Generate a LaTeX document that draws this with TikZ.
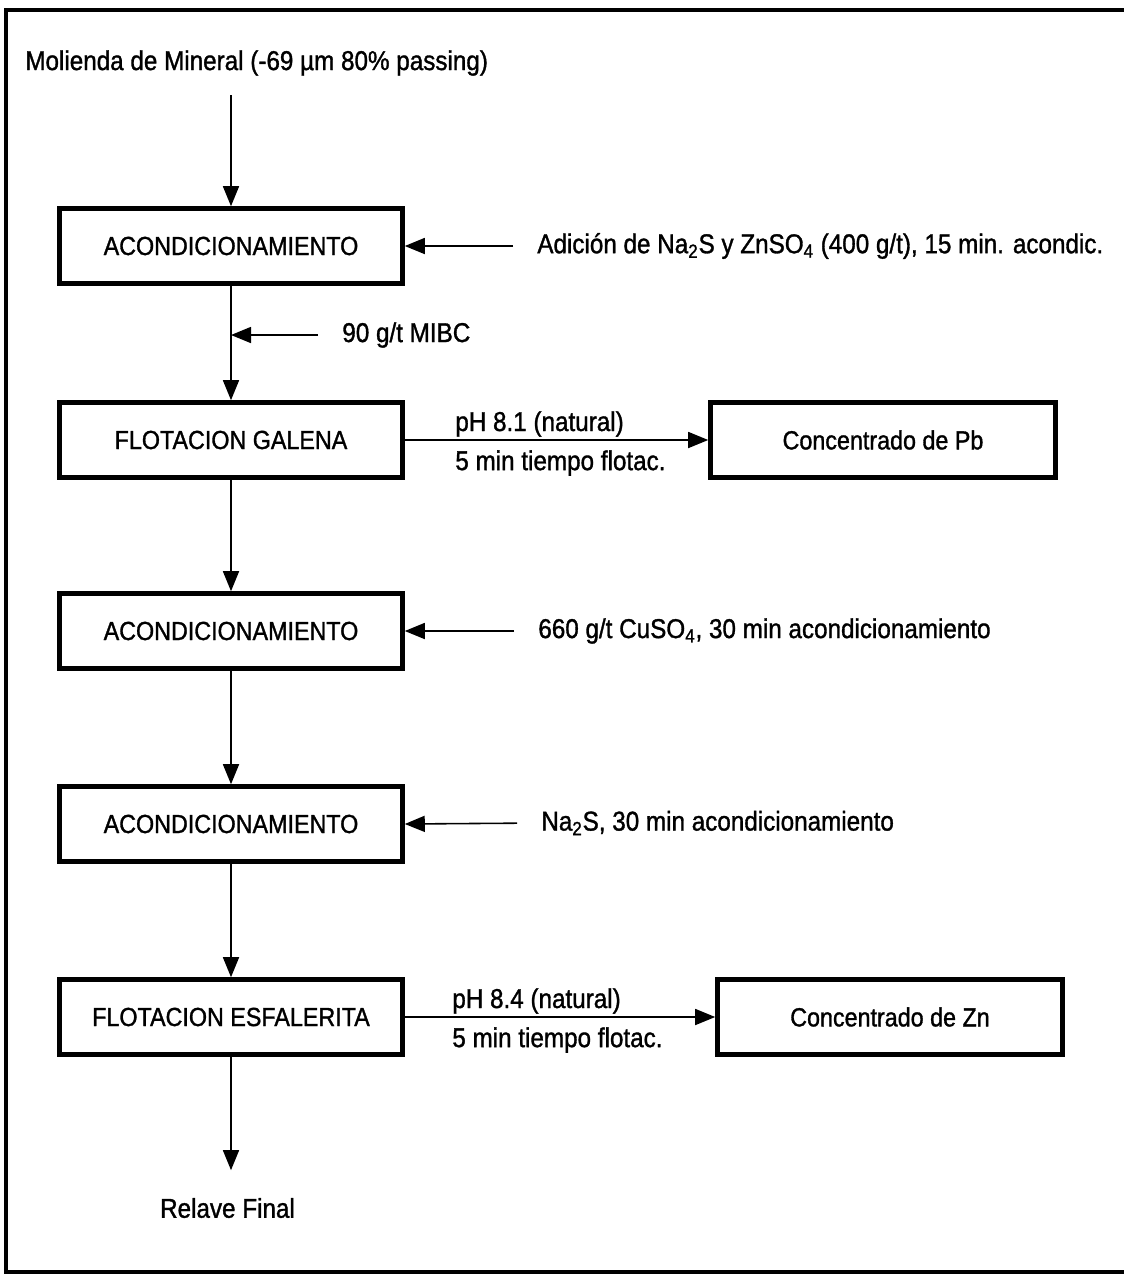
\documentclass[tikz,border=0pt]{standalone}
\usepackage{fontspec}
\setmainfont{Liberation Sans}[FakeStretch=0.89, FakeBold=1.2]
\usetikzlibrary{arrows.meta, positioning}

\begin{document}
\begin{tikzpicture}[
    stage/.style={draw=black, line width=2.6pt, minimum width=6.86cm, minimum height=1.5cm, font=\fontsize{14.9}{18}\selectfont},
    product/.style={stage, minimum width=6.9cm},
    sidetext/.style={inner sep=0pt, anchor=west, font=\fontsize{15.5}{18}\selectfont},
    flow/.style={-{Triangle[length=0.4cm, width=0.32cm]}, line width=0.9pt},
    feedarrow/.style={flow, shorten <=0.48cm},
    frame/.style={line width=2.4pt}
]
        \useasboundingbox (0,0) rectangle (22.48,-25.68);
        \draw[frame] (22.7,-0.2) -- (0.12,-0.2) -- (0.12,-25.44) -- (22.7,-25.44);

        \node[sidetext, name=title] at(0.5,-1.26) {Molienda de Mineral (-69 µm 80\% passing)};
        \coordinate (feed) at(4.62,-1.9);

        \node[stage, name=acond1] at(4.62,-4.92) {ACONDICIONAMIENTO};
        \node[stage, name=galena] at(4.62,-8.8) {FLOTACION GALENA};
        \node[stage, name=acond2] at(4.62,-12.62) {ACONDICIONAMIENTO};
        \node[stage, name=acond3] at(4.62,-16.48) {ACONDICIONAMIENTO};
        \node[stage, name=esfal] at(4.62,-20.34) {FLOTACION ESFALERITA};

        \node[product, name=concPb] at(17.66,-8.8) {Concentrado de Pb};
        \node[product, name=concZn] at(17.8,-20.34) {Concentrado de Zn};

        \node[sidetext, name=reag1] at(10.74,-4.92) {Adición de Na\textsubscript{2}S y ZnSO\textsubscript{4} (400 g/t), 15 min. acondic.};
        \node[sidetext, name=mibc] at(6.84,-6.7) {90 g/t MIBC};
        \node[sidetext, name=reag2] at(10.76,-12.62) {660 g/t CuSO\textsubscript{4}, 30 min acondicionamiento};
        \node[sidetext, name=reag3] at(10.82,-16.46) {Na\textsubscript{2}S, 30 min acondicionamiento};

        \node[sidetext, anchor=south west, name=ph1] at(9.1,-8.74) {pH 8.1 (natural)};
        \node[sidetext, anchor=north west, name=t1] at(9.1,-9.0) {5 min tiempo flotac.};
        \node[sidetext, anchor=south west, name=ph2] at(9.04,-20.28) {pH 8.4 (natural)};
        \node[sidetext, anchor=north west, name=t2] at(9.04,-20.54) {5 min tiempo flotac.};

        \node[sidetext, anchor=center, name=relave] at(4.55,-24.16) {Relave Final};

        \draw[flow] (feed) -- (acond1);
        \draw[flow] (acond1) -- (galena);
        \draw[flow] (galena) -- (acond2);
        \draw[flow] (acond2) -- (acond3);
        \draw[flow] (acond3) -- (esfal);
        \draw[flow, shorten >=0.55cm] (esfal.south) -- (esfal.south |- relave.north);

        \draw[feedarrow] (reag1.west) -- (acond1.east);
        \draw[feedarrow] (mibc.west) -- (acond1.south |- mibc.west);
        \draw[feedarrow] (reag2.west) -- (acond2.east);
        \draw[feedarrow] (reag3.west) -- (acond3.east);

        \draw[flow] (galena) -- (concPb);
        \draw[flow] (esfal) -- (concZn);
    \end{tikzpicture}
\end{document}
